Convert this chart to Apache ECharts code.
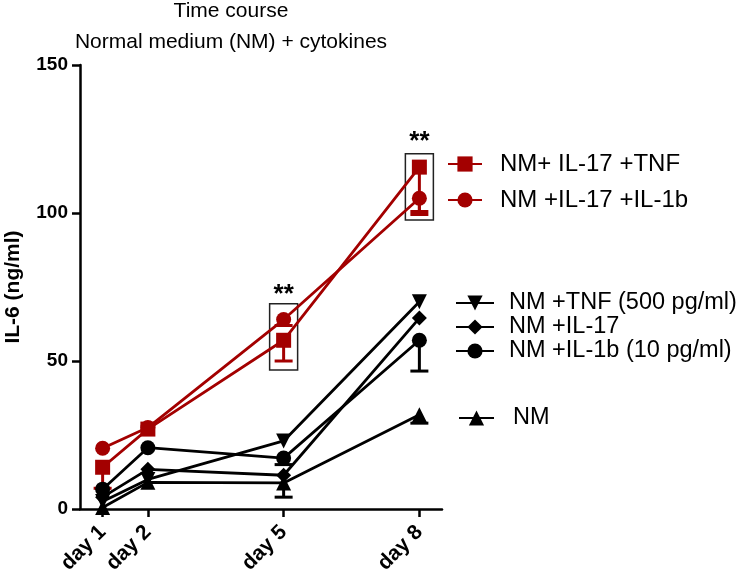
<!DOCTYPE html>
<html>
<head>
<meta charset="utf-8">
<script src="https://cdn.jsdelivr.net/npm/echarts@6/dist/echarts.min.js"></script>
<style>html,body{margin:0;padding:0;background:#fff}#c{width:740px;height:580px}</style>
</head>
<body>
<div id="c"></div>
<script>
// ---- data ----
const days = [1, 2, 5, 8];
const dayLabels = ['day 1', 'day 2', 'day 5', 'day 8'];
const yTicks = [0, 50, 100, 150];

const tnfIl17 = [14.1, 27, 57, 115.5];
const tnfIl17Low = [7, null, 50, 100.5];
const il17Il1b = [20.5, 27.5, 64, 105];
const il17Il1bLow = [null, null, 62, 99.5];
const tnf = [2.5, 10, 23, 70];
const tnfLow = [null, null, null, null];
const il17 = [4, 13.4, 11.4, 64.5];
const il17Low = [null, null, null, null];
const il1b = [6.7, 20.7, 17.2, 57];
const il1bLow = [null, null, 15, 46.6];
const nm = [0.5, 9, 8.8, 31.8];
const nmLow = [null, null, 4, 29];

const boxDays = [5, 8];
const boxLow = [47, 97.6];
const boxHigh = [69.3, 120];
const starValues = [72.5, 124];
const starText = '**';

const names = ['NM+ IL-17 +TNF', 'NM +IL-17 +IL-1b', 'NM +TNF (500 pg/ml)', 'NM +IL-17', 'NM +IL-1b (10 pg/ml)', 'NM'];

const RED = '#a30000';
const BLACK = '#000000';
const FONT = 'Liberation Sans, Arial, sans-serif';

function lineSeries(name, vals, color, symbol, rotate) {
  return {
    name: name, type: 'line', data: days.map((d, i) => [d, vals[i]]),
    symbol: symbol, symbolSize: 15, symbolRotate: rotate || 0,
    lineStyle: { color: color, width: 2.8 },
    itemStyle: { color: color },
    emphasis: { disabled: true }, z: 3
  };
}
function errSeries(vals, lows, color) {
  const data = [];
  days.forEach((d, i) => { if (lows[i] != null) data.push([d, vals[i], lows[i]]); });
  return {
    type: 'custom', data: data, z: 2, silent: true,
    renderItem: function (params, api) {
      const top = api.coord([api.value(0), api.value(1)]);
      const bot = api.coord([api.value(0), api.value(2)]);
      return { type: 'group', children: [
        { type: 'line', shape: { x1: top[0], y1: top[1], x2: bot[0], y2: bot[1] }, style: { stroke: color, lineWidth: 3 } },
        { type: 'line', shape: { x1: bot[0] - 9, y1: bot[1], x2: bot[0] + 9, y2: bot[1] }, style: { stroke: color, lineWidth: 3 } }
      ] };
    }
  };
}

const series = [
  lineSeries(names[0], tnfIl17, RED, 'rect'),
  lineSeries(names[1], il17Il1b, RED, 'circle'),
  lineSeries(names[2], tnf, BLACK, 'triangle', 180),
  lineSeries(names[3], il17, BLACK, 'diamond'),
  lineSeries(names[4], il1b, BLACK, 'circle'),
  lineSeries(names[5], nm, BLACK, 'triangle'),
  errSeries(tnfIl17, tnfIl17Low, RED),
  errSeries(il17Il1b, il17Il1bLow, RED),
  errSeries(tnf, tnfLow, BLACK),
  errSeries(il17, il17Low, BLACK),
  errSeries(il1b, il1bLow, BLACK),
  errSeries(nm, nmLow, BLACK),
  {
    type: 'custom', silent: true, z: 1,
    data: boxDays.map((d, i) => [d, boxLow[i], boxHigh[i], starValues[i]]),
    renderItem: function (params, api) {
      const lo = api.coord([api.value(0), api.value(1)]);
      const hi = api.coord([api.value(0), api.value(2)]);
      const st = api.coord([api.value(0), api.value(3)]);
      return { type: 'group', children: [
        { type: 'rect', shape: { x: lo[0] - 14, y: hi[1], width: 28, height: lo[1] - hi[1] }, style: { stroke: '#222', lineWidth: 1.5, fill: 'none' } },
        { type: 'text', style: { text: starText, x: st[0], y: st[1], align: 'center', verticalAlign: 'middle', font: 'bold 26px ' + FONT, fill: '#000' } }
      ] };
    }
  }
];

function legendText(size, padLeft) {
  return { fontSize: size, fontFamily: FONT, color: '#000', lineHeight: 24, padding: [0, 0, 0, padLeft] };
}

const option = {
  animation: false,
  backgroundColor: '#fff',
  title: {
    text: 'Time course\nNormal medium (NM) + cytokines',
    left: 231, top: -4, textAlign: 'center', padding: 0,
    textStyle: { fontSize: 21, fontWeight: 'normal', fontFamily: FONT, color: '#000', lineHeight: 31 }
  },
  legend: [
    { orient: 'vertical', selectedMode: false, padding: 0, itemHeight: 19,
      data: [names[0], names[1]], left: 447, top: 152, itemWidth: 34, itemGap: 12,
      textStyle: legendText(24, 13) },
    { orient: 'vertical', selectedMode: false, padding: 0, itemHeight: 19,
      data: [names[2], names[3], names[4]], left: 455, top: 291, itemWidth: 38, itemGap: 0,
      textStyle: legendText(23.5, 10) },
    { orient: 'vertical', selectedMode: false, padding: 0, itemHeight: 19,
      data: [names[5]], left: 458, top: 406, itemWidth: 35, itemGap: 0,
      textStyle: legendText(23.5, 14) }
  ],
  grid: { left: 80, right: 298, top: 65, bottom: 71 },
  xAxis: {
    type: 'value', min: 0.5, max: 8.5,
    splitLine: { show: false },
    axisLine: { lineStyle: { color: '#000', width: 2.5 } },
    axisTick: { customValues: days, length: 8, lineStyle: { color: '#000', width: 2.5 } },
    axisLabel: {
      customValues: days, rotate: 45, margin: 20,
      formatter: function (v) { return dayLabels[days.indexOf(v)]; },
      fontSize: 21, fontWeight: 'bold', fontFamily: FONT, color: '#000'
    }
  },
  yAxis: {
    type: 'value', min: 0, max: 150, interval: 50,
    name: 'IL-6 (ng/ml)', nameLocation: 'middle', nameGap: 56,
    nameTextStyle: { fontSize: 21, fontWeight: 'bold', fontFamily: FONT, color: '#000' },
    splitLine: { show: false },
    axisLine: { show: true, lineStyle: { color: '#000', width: 2.5 } },
    axisTick: { show: true, length: 8, lineStyle: { color: '#000', width: 2.5 } },
    axisLabel: {
      customValues: yTicks, margin: 12,
      fontSize: 19, fontWeight: 'bold', fontFamily: FONT, color: '#000'
    }
  },
  series: series
};

const chart = echarts.init(document.getElementById('c'), null, { renderer: 'canvas' });
chart.setOption(option);
</script>
</body>
</html>
